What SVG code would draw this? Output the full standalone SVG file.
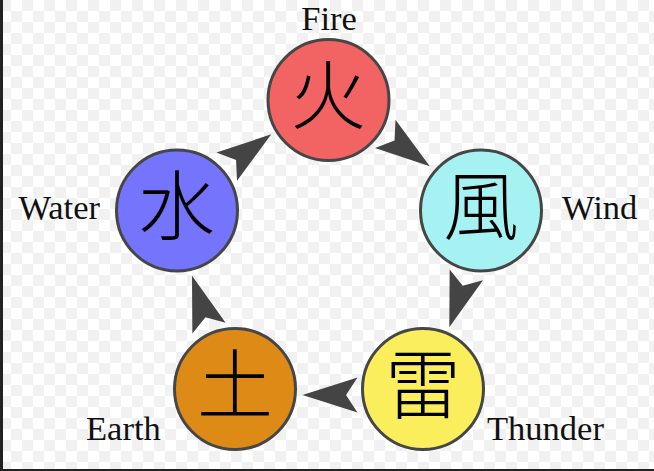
<svg xmlns="http://www.w3.org/2000/svg" width="654" height="471" viewBox="0 0 654 471">
<style>
.node circle{stroke:#464646;stroke-width:3}
.glyph{font-family:"Noto Sans CJK JP","Noto Sans CJK SC",sans-serif;font-size:76px;font-weight:300;fill:#000;text-anchor:middle}
.label{font-family:"Liberation Serif","Times New Roman",serif;font-size:34.5px;fill:#111}
.arrow{fill:#444}
</style>
<defs>
<pattern id="checker" width="22" height="22" patternUnits="userSpaceOnUse">
<rect width="22" height="22" fill="#ffffff"/>
<rect width="11" height="11" fill="#f1f1f1"/>
<rect x="11" y="11" width="11" height="11" fill="#f1f1f1"/>
</pattern>
<path id="head" d="M27.5,0 L-27.5,-17.5 L-16,0 L-27.5,17.5 Z"/>
</defs>
<rect width="654" height="471" fill="url(#checker)"/>
<rect x="0" y="0" width="3" height="471" fill="#222"/>
<rect x="0" y="469" width="654" height="2" fill="#222"/>
<g id="connectors" class="arrow">
<use href="#head" transform="translate(407.5,150) rotate(35.9)"/>
<use href="#head" transform="translate(457.8,301) rotate(108)"/>
<use href="#head" transform="translate(330,395) rotate(180)"/>
<use href="#head" transform="translate(200.5,302) rotate(-108)"/>
<use href="#head" transform="translate(249,150.5) rotate(-36)"/>
</g>
<g id="fire" class="node">
<circle cx="328.5" cy="100" r="60.5" fill="#f26363"/>
<text class="glyph" x="328.5" y="123">火</text>
<text class="label" x="329" y="30" text-anchor="middle">Fire</text>
</g>
<g id="wind" class="node">
<circle cx="481" cy="210.5" r="60.5" fill="#a6f2f2"/>
<text class="glyph" x="481" y="234">風</text>
<text class="label" x="562" y="219">Wind</text>
</g>
<g id="thunder" class="node">
<circle cx="423" cy="389" r="60.5" fill="#faee5c"/>
<text class="glyph" x="423" y="413">雷</text>
<text class="label" x="487" y="440">Thunder</text>
</g>
<g id="earth" class="node">
<circle cx="235" cy="389" r="60.5" fill="#de8a16"/>
<text class="glyph" x="235" y="413">土</text>
<text class="label" x="86" y="440">Earth</text>
</g>
<g id="water" class="node">
<circle cx="177" cy="210.5" r="60.5" fill="#7474fc"/>
<text class="glyph" x="177" y="234">水</text>
<text class="label" x="100" y="219" text-anchor="end">Water</text>
</g>
</svg>
